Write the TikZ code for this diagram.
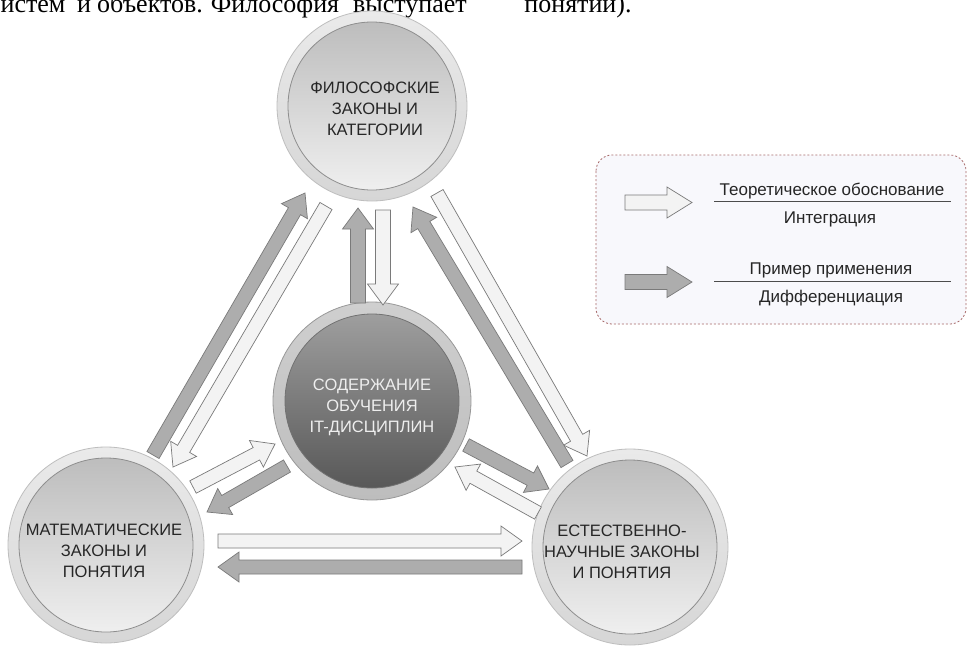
\documentclass[tikz,border=0pt]{standalone}
\usepackage{fontspec}
\setmainfont{Liberation Sans}
\newfontfamily\pageserif{Liberation Serif}
\usetikzlibrary{calc}
\definecolor{ringTop}{HTML}{EAEAEA}
\definecolor{ringBot}{HTML}{D6D6D6}
\definecolor{ringEdge}{HTML}{BEBEBE}
\definecolor{innerTop}{HTML}{BDBDBD}
\definecolor{innerBot}{HTML}{EFEFEF}
\definecolor{innerEdge}{HTML}{8E8E8E}
\definecolor{cRingTop}{HTML}{CFCFCF}
\definecolor{cRingBot}{HTML}{BDBDBD}
\definecolor{cTop}{HTML}{9E9E9E}
\definecolor{cBot}{HTML}{585858}
\definecolor{arrLight}{HTML}{F3F3F3}
\definecolor{arrDark}{HTML}{ADADAD}
\definecolor{arrEdge}{HTML}{7A7A7A}
\definecolor{legEdge}{HTML}{A86A6A}
\definecolor{legFill}{HTML}{F8F8FC}
\definecolor{labelC}{HTML}{262626}
\definecolor{labelW}{HTML}{EEEEEE}
% #1 tail, #2 tip, #3 fill, #4 half body, #5 half head, #6 head length
\newcommand\blockarr[6]{%
  \coordinate (hb) at ($(#2)!#6!(#1)$);
  \filldraw[fill=#3, draw=arrEdge, line width=0.7pt, line join=miter]
    ($(#1)!#4!90:(#2)$) -- ($(hb)!#4!90:(#2)$) -- ($(hb)!#5!90:(#2)$) -- (#2)
    -- ($(hb)!#5!-90:(#2)$) -- ($(hb)!#4!-90:(#2)$) -- ($(#1)!#4!-90:(#2)$) -- cycle;
}
\begin{document}
\begin{tikzpicture}[x=1pt,y=-1pt,
  ringlight/.style={circle, inner sep=0pt, minimum size=196pt, draw=ringEdge, line width=0.8pt, top color=ringTop, bottom color=ringBot},
  innerlight/.style={circle, inner sep=0pt, minimum size=174pt, draw=innerEdge, line width=0.8pt, top color=innerTop, bottom color=innerBot},
  ringdark/.style={circle, inner sep=0pt, minimum size=198pt, draw=ringEdge!80!black, line width=0.8pt, top color=cRingTop, bottom color=cRingBot},
  innerdark/.style={circle, inner sep=0pt, minimum size=174pt, draw=innerEdge!80!black, line width=0.8pt, top color=cTop, bottom color=cBot},
  lbl/.style={align=center, font=\fontsize{16.5}{21}\selectfont, text=labelC, inner sep=0pt},
  lblw/.style={lbl, text=labelW},
  legtxt/.style={font=\fontsize{17}{20}\selectfont, text=black!85, inner sep=0pt, anchor=base},
  pagetxt/.style={font=\pageserif\fontsize{26}{26}\selectfont, inner sep=0pt, anchor=base}
]
\useasboundingbox (0,0) rectangle (967,646);
\fill[white] (0,0) rectangle (967,646);

% fragment of page text cut at the top
\begin{scope}
\clip (0,0) rectangle (967,24);
\node[pagetxt] (p1) at (33,12.5) {истем};
\node[pagetxt] (p2) at (84,12.5) {и};
\node[pagetxt] (p3) at (150,12.5) {объектов.};
\node[pagetxt] (p4) at (275,12.5) {Философия};
\node[pagetxt] (p5) at (410,12.5) {выступает};
\node[pagetxt] (p6) at (578,12.5) {понятий).};
\end{scope}

% legend
\draw[legEdge, line width=0.8pt, dash pattern=on 2pt off 2pt, fill=legFill, rounded corners=16pt]
  (596,155) rectangle (966,324);
\coordinate (lg1s) at (625,202.5);
\coordinate (lg1e) at (692,202.5);
\coordinate (lg2s) at (625,282);
\coordinate (lg2e) at (692,282);
\blockarr{lg1s}{lg1e}{arrLight}{7.5pt}{15.5pt}{25pt}
\blockarr{lg2s}{lg2e}{arrDark}{7.5pt}{15.5pt}{25pt}
\node[legtxt] (lt1) at (832,195) {Теоретическое обоснование};
\node[legtxt] (lt2) at (830,223) {Интеграция};
\node[legtxt] (lt3) at (831,274) {Пример применения};
\node[legtxt] (lt4) at (831,302) {Дифференциация};
\coordinate (ln1a) at (714,201.5);
\coordinate (ln1b) at (951,201.5);
\coordinate (ln2a) at (714,281);
\coordinate (ln2b) at (951,281);
\draw[black!70, line width=0.8pt] (ln1a) -- (ln1b);
\draw[black!70, line width=0.8pt] (ln2a) -- (ln2b);

% circles
\node[ringlight, minimum size=190pt] (T) at (372,106) {};
\node[innerlight, minimum size=168pt] (Tin) at (T.center) {};
\node[ringdark] (C) at (372,401) {};
\node[innerdark] (Cin) at (C.center) {};
\node[ringlight] (L) at (106,545) {};
\node[innerlight] (Lin) at (L.center) {};
\node[ringlight] (R) at (630,547) {};
\node[innerlight] (Rin) at (R.center) {};

\node[lbl] (Ttxt) at (375,109) {ФИЛОСОФСКИЕ\\ЗАКОНЫ И\\КАТЕГОРИИ};
\node[lblw] (Ctxt) at (372,407) {СОДЕРЖАНИЕ\\ОБУЧЕНИЯ\\IT-ДИСЦИПЛИН};
\node[lbl] (Ltxt) at (104,551) {МАТЕМАТИЧЕСКИЕ\\ЗАКОНЫ И\\ПОНЯТИЯ};
\node[lbl] (Rtxt) at (622,552) {ЕСТЕСТВЕННО-\\НАУЧНЫЕ ЗАКОНЫ\\И ПОНЯТИЯ};

% arrow end points
\coordinate (a1s) at (153,455);  \coordinate (a1e) at (305,193);
\coordinate (a2s) at (326,206);  \coordinate (a2e) at (173,467);
\coordinate (a3s) at (358,303);  \coordinate (a3e) at (358,208);
\coordinate (a4s) at (383,210);  \coordinate (a4e) at (383,305);
\coordinate (a5s) at (437,193);  \coordinate (a5e) at (587,456);
\coordinate (a6s) at (567,464);  \coordinate (a6e) at (413,207);
\coordinate (a7s) at (193,487);  \coordinate (a7e) at (275,444);
\coordinate (a8s) at (287,466);  \coordinate (a8e) at (207,512);
\coordinate (a9s) at (466,445);  \coordinate (a9e) at (549,489);
\coordinate (a10s) at (538,513); \coordinate (a10e) at (455,467);
\coordinate (a11s) at (218,541); \coordinate (a11e) at (522,541);
\coordinate (a12s) at (522,567); \coordinate (a12e) at (218,567);

\blockarr{a1s}{a1e}{arrDark}{7pt}{15pt}{21pt}
\blockarr{a2s}{a2e}{arrLight}{7pt}{15pt}{21pt}
\blockarr{a3s}{a3e}{arrDark}{7.5pt}{15.5pt}{21pt}
\blockarr{a4s}{a4e}{arrLight}{7.5pt}{15.5pt}{21pt}
\blockarr{a5s}{a5e}{arrLight}{7pt}{15pt}{21pt}
\blockarr{a6s}{a6e}{arrDark}{7pt}{15pt}{21pt}
\blockarr{a7s}{a7e}{arrLight}{7pt}{15pt}{21pt}
\blockarr{a8s}{a8e}{arrDark}{7pt}{15pt}{21pt}
\blockarr{a9s}{a9e}{arrDark}{7pt}{15pt}{21pt}
\blockarr{a10s}{a10e}{arrLight}{7pt}{15pt}{21pt}
\blockarr{a11s}{a11e}{arrLight}{7pt}{15pt}{21pt}
\blockarr{a12s}{a12e}{arrDark}{7pt}{15pt}{21pt}
\end{tikzpicture}
\end{document}
